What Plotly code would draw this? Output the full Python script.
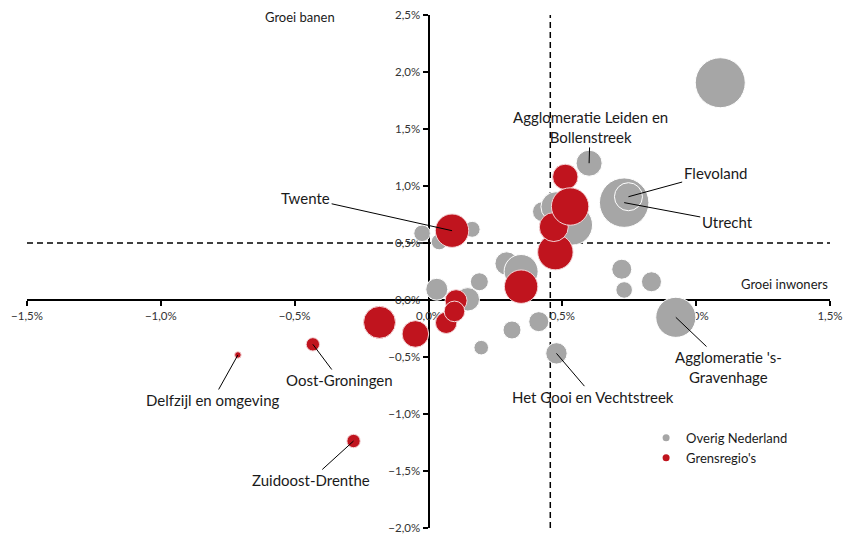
import plotly.graph_objects as go

# groei inwoners (x, %) / groei banen (y, %) / omvang (duizend inwoners)
overig_x = [1.09, 0.60, 0.731, 0.747, 0.538, 0.426, 0.476, -0.024, 0.04, 0.163, 0.292, 0.346,
            0.19, 0.031, 0.147, 0.722, 0.731, 0.833, 0.924, 0.412, 0.312, 0.197, 0.478]
overig_y = [1.906, 1.20, 0.854, 0.906, 0.658, 0.775, 0.818, 0.585, 0.51, 0.62, 0.32, 0.25,
            0.16, 0.094, 0.006, 0.27, 0.088, 0.16, -0.152, -0.19, -0.263, -0.418, -0.468]
overig_size = [1400, 380, 1370, 440, 900, 224, 504, 154, 143, 143, 307, 647,
               181, 271, 307, 224, 154, 224, 900, 224, 181, 119, 256]

grens_x = [0.088, 0.511, 0.474, 0.468, 0.529, 0.346, 0.066, 0.103, 0.097, -0.183, -0.049,
           -0.432, -0.712, -0.28]
grens_y = [0.608, 1.08, 0.42, 0.64, 0.82, 0.117, -0.20, -0.006, -0.10, -0.196, -0.298,
           -0.389, -0.482, -1.237]
grens_size = [625, 361, 702, 471, 783, 625, 256, 271, 238, 573, 396, 100, 24, 100]

gemiddeld_inwoners = 0.455
gemiddeld_banen = 0.5

# labels: (tekst, punt x, punt y, tekst x, tekst y)
labels = [
    ("Agglomeratie Leiden en<br>Bollenstreek", 0.60, 1.20, 0.604, 1.518),
    ("Flevoland", 0.747, 0.906, 1.071, 1.114),
    ("Utrecht", 0.731, 0.854, 1.116, 0.684),
    ("Twente", 0.088, 0.608, -0.459, 0.895),
    ("Agglomeratie 's-<br>Gravenhage", 0.924, -0.152, 1.119, -0.588),
    ("Het Gooi en Vechtstreek", 0.478, -0.468, 0.616, -0.848),
    ("Oost-Groningen", -0.432, -0.389, -0.332, -0.702),
    ("Delfzijl en omgeving", -0.712, -0.482, -0.806, -0.877),
    ("Zuidoost-Drenthe", -0.28, -1.237, -0.44, -1.579),
]

grijs = "#a6a6a6"
rood = "#c0141e"
FONT = "Lato, 'Open Sans', sans-serif"
SIZEREF = 1.12

fig = go.Figure()

fig.add_trace(go.Scatter(
    x=overig_x, y=overig_y, mode="markers", showlegend=False, hoverinfo="skip",
    marker={"size": overig_size, "sizemode": "area", "sizeref": SIZEREF, "color": grijs,
            "opacity": 1, "line": {"width": 1, "color": "white"}},
))
fig.add_trace(go.Scatter(
    x=grens_x, y=grens_y, mode="markers", showlegend=False, hoverinfo="skip",
    marker={"size": grens_size, "sizemode": "area", "sizeref": SIZEREF, "color": rood,
            "opacity": 1, "line": {"width": 1, "color": "#f4d6d8"}},
))

# legend entries
fig.add_trace(go.Scatter(x=[None], y=[None], mode="markers", name="Overig Nederland",
                         marker={"size": 7, "color": grijs}))
fig.add_trace(go.Scatter(x=[None], y=[None], mode="markers", name="Grensregio's",
                         marker={"size": 7, "color": rood}))

# dashed average lines
fig.add_shape(type="line", x0=-1.5, x1=1.5, y0=gemiddeld_banen, y1=gemiddeld_banen,
              xref="x", yref="y", layer="below",
              line={"color": "black", "width": 1.5, "dash": "6px,4px"})
fig.add_shape(type="line", x0=gemiddeld_inwoners, x1=gemiddeld_inwoners, y0=-2.0, y1=2.5,
              xref="x", yref="y", layer="below",
              line={"color": "black", "width": 1.5, "dash": "6px,4px"})

for text, px_, py_, tx, ty in labels:
    fig.add_annotation(x=px_, y=py_, ax=tx, ay=ty, axref="x", ayref="y", text=text,
                       showarrow=True, arrowhead=0, arrowwidth=1, arrowcolor="black",
                       standoff=0, align="center",
                       font={"family": FONT, "size": 15, "color": "#1a1a1a"})

fig.add_annotation(x=-0.481, y=2.48, text="Groei banen", showarrow=False,
                   font={"family": FONT, "size": 13, "color": "#1a1a1a"})
fig.add_annotation(x=1.33, y=0.14, text="Groei inwoners", showarrow=False,
                   font={"family": FONT, "size": 13, "color": "#1a1a1a"})

axis_common = dict(
    showgrid=False, zeroline=False, showline=True, linecolor="black", linewidth=2,
    ticks="outside", ticklen=5, tickwidth=2, tickcolor="black",
    tickformat=".1f", ticksuffix="%", dtick=0.5, anchor="free",
    tickfont={"family": FONT, "size": 11.5, "color": "#333333"},
    layer="below traces", fixedrange=True, automargin=False,
)

# the page body adds 8px around the figure, margins compensate for that
fig.update_layout(
    width=858, height=537,
    margin={"l": 19, "r": 36, "t": 7, "b": 17, "autoexpand": False},
    paper_bgcolor="white", plot_bgcolor="white",
    separators=",.",
    xaxis=dict(axis_common, range=[-1.5, 1.5], position=2.0 / 4.5),
    yaxis=dict(axis_common, range=[-2.0, 2.5], position=0.5),
    legend={"x": 0.771, "y": 0.205, "xanchor": "left", "yanchor": "top",
            "bgcolor": "rgba(0,0,0,0)", "font": {"family": FONT, "size": 13, "color": "#1a1a1a"},
            "itemwidth": 30, "tracegroupgap": 0},
)

fig.write_html("out.html")
